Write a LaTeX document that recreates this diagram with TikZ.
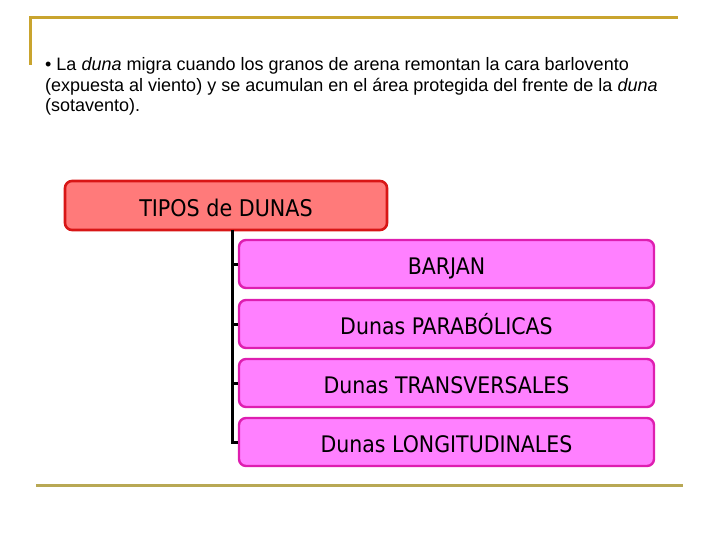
\documentclass[tikz,border=0pt]{standalone}
\usepackage{fontspec}
\setmainfont{Liberation Sans}
\newfontfamily\boxfont{DejaVu Sans Condensed}
\usepackage{tikz}

\definecolor{goldline}{RGB}{201,164,46}
\definecolor{oliveline}{RGB}{184,168,84}
\definecolor{tiposfill}{RGB}{255,122,122}
\definecolor{tiposdraw}{RGB}{216,22,22}
\definecolor{tipofill}{RGB}{255,128,255}
\definecolor{tipodraw}{RGB}{222,30,176}

\tikzset{
  rule/.style={line width=3pt},
  head/.style={draw=tiposdraw, fill=tiposfill, line width=2.6pt, rounded corners=7pt,
    minimum width=322pt, minimum height=49pt, inner sep=0pt, text height=25pt, text depth=4pt,
    font=\boxfont\fontsize{23}{27}\selectfont},
  tipo/.style={draw=tipodraw, fill=tipofill, line width=2.4pt, rounded corners=7pt,
    minimum width=415pt, minimum height=48pt, inner sep=0pt, text height=25pt, text depth=4pt,
    font=\boxfont\fontsize{22.8}{27}\selectfont},
  texto/.style={anchor=base west, inner sep=0pt, font=\fontsize{18}{22}\selectfont},
  tree/.style={line width=3pt}
}

\begin{document}
\begin{tikzpicture}[x=1pt,y=-1pt]
		\useasboundingbox (0,0) rectangle (720,540);
		\draw[rule, goldline] (30,65) -- (30,17.5) -- (678,17.5);
		\draw[rule, oliveline] (36,485.5) -- (683,485.5);
		\node[texto] (line1) at (45,70.5) {• La \textit{duna} migra cuando los granos de arena remontan la cara barlovento};
		\node[texto] (line2) at (45,91.5) {(expuesta al viento) y se acumulan en el área protegida del frente de la \textit{duna}};
		\node[texto] (line3) at (45,112) {(sotavento).};
		\node[head] (tipos) at (226,205.5) {TIPOS de DUNAS};
		\node[tipo] (barjan) at (446.5,264) {BARJAN};
		\node[tipo] (parab) at (446.5,324) {Dunas PARABÓLICAS};
		\node[tipo] (trans) at (446.5,383) {Dunas TRANSVERSALES};
		\node[tipo] (longi) at (446.5,442) {Dunas LONGITUDINALES};
		\coordinate (trunk) at (232.5,230);
		\draw[tree] (trunk) |- (longi.west);
		\draw[tree] (trunk |- barjan.west) -- (barjan.west);
		\draw[tree] (trunk |- parab.west) -- (parab.west);
		\draw[tree] (trunk |- trans.west) -- (trans.west);
	% tipos de dunas
	\end{tikzpicture}
\end{document}
